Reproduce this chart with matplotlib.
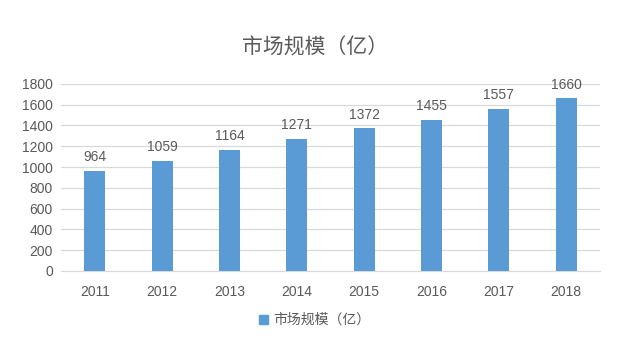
import matplotlib
matplotlib.use('Agg')
import matplotlib.pyplot as plt
from matplotlib.patches import Patch

plt.rcParams['font.family'] = ['Liberation Sans', 'Noto Sans CJK SC', 'DejaVu Sans']

# données
years = ['2011', '2012', '2013', '2014', '2015', '2016', '2017', '2018']
market = [964, 1059, 1164, 1271, 1372, 1455, 1557, 1660]
yticks = [0, 200, 400, 600, 800, 1000, 1200, 1400, 1600, 1800]
title = '市场规模（亿）'

blue = '#5B9BD5'
grey = '#595959'

fig = plt.figure(figsize=(6.3, 3.51), dpi=100)
ax = fig.add_axes([0.097, 0.228, 0.855, 0.533])

x = range(len(years))
ax.bar(x, market, width=0.31, color=blue, zorder=3)
for i, v in enumerate(market):
    ax.text(i, v + 65, str(v), ha='center', va='bottom', fontsize=10, color=grey)

ax.set_xlim(-0.5, len(years) - 0.5)
ax.set_ylim(0, 1800)
ax.set_yticks(yticks)
ax.set_xticks(list(x))
ax.set_xticklabels(years)
ax.tick_params(axis='both', length=0, labelsize=10, colors=grey)
ax.tick_params(axis='x', pad=10)
ax.tick_params(axis='y', pad=6)
ax.grid(axis='y', color='#D9D9D9', linewidth=0.9, zorder=0)
for s in ['top', 'right', 'left']:
    ax.spines[s].set_visible(False)
ax.spines['bottom'].set_color('#D9D9D9')

fig.text(0.5, 0.866, title, ha='center', va='center', fontsize=15, color=grey)

fig.legend(handles=[Patch(color=blue, label=title)], loc='center',
           bbox_to_anchor=(0.5, 0.088), frameon=False, fontsize=10,
           handlelength=0.6, handleheight=0.6, handletextpad=0.4, labelcolor=grey)

plt.savefig('out.png', dpi=100)
